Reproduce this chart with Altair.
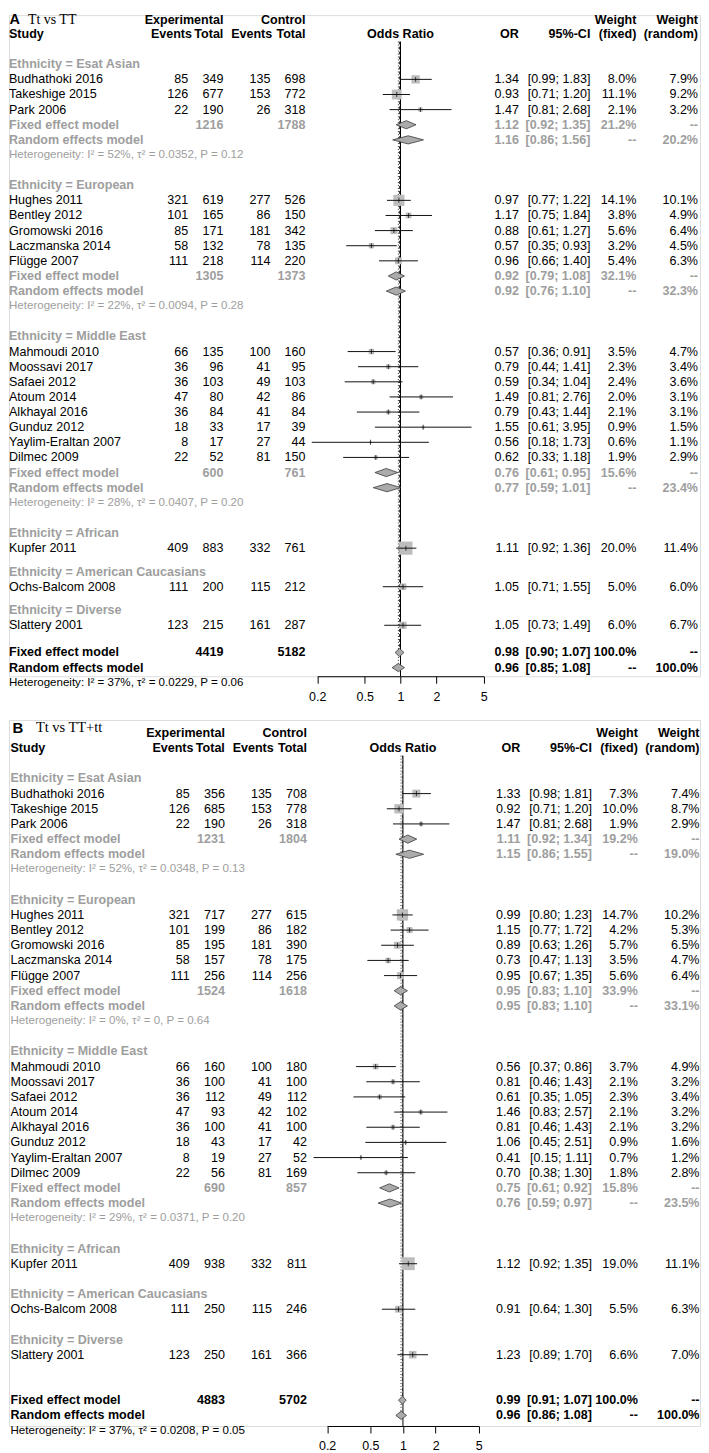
import altair as alt
import pandas as pd

FONT = "Liberation Sans"
SERIF = "Liberation Serif"
GREY = "#9e9e9e"
BLACK = "#000000"
SQUARE_FILL = "#bdbdbd"
DIAMOND_FILL = "#ababab"
FS = 12.6
FS_HET = 11.6

GROUPS = ["Esat Asian", "European", "Middle East", "African", "American Caucasians", "Diverse"]
GROUP_SIZES = [3, 5, 8, 1, 1, 1]
STUDIES = ["Budhathoki 2016", "Takeshige 2015", "Park 2006",
           "Hughes 2011", "Bentley 2012", "Gromowski 2016", "Laczmanska 2014", "Flügge 2007",
           "Mahmoudi 2010", "Moossavi 2017", "Safaei 2012", "Atoum 2014", "Alkhayal 2016",
           "Gunduz 2012", "Yaylim-Eraltan 2007", "Dilmec 2009",
           "Kupfer 2011", "Ochs-Balcom 2008", "Slattery 2001"]
TICKS = [0.2, 0.5, 1, 2, 5]

# ---------------- Panel A: Tt vs TT ----------------
A_EXP_EVENTS = [85, 126, 22, 321, 101, 85, 58, 111, 66, 36, 36, 47, 36, 18, 8, 22, 409, 111, 123]
A_EXP_TOTAL = [349, 677, 190, 619, 165, 171, 132, 218, 135, 96, 103, 80, 84, 33, 17, 52, 883, 200, 215]
A_CTL_EVENTS = [135, 153, 26, 277, 86, 181, 78, 114, 100, 41, 49, 42, 41, 17, 27, 81, 332, 115, 161]
A_CTL_TOTAL = [698, 772, 318, 526, 150, 342, 135, 220, 160, 95, 103, 86, 84, 39, 44, 150, 761, 212, 287]
A_OR = [1.34, 0.93, 1.47, 0.97, 1.17, 0.88, 0.57, 0.96, 0.57, 0.79, 0.59, 1.49, 0.79, 1.55, 0.56, 0.62, 1.11, 1.05, 1.05]
A_LO = [0.99, 0.71, 0.81, 0.77, 0.75, 0.61, 0.35, 0.66, 0.36, 0.44, 0.34, 0.81, 0.43, 0.61, 0.18, 0.33, 0.92, 0.71, 0.73]
A_HI = [1.83, 1.20, 2.68, 1.22, 1.84, 1.27, 0.93, 1.40, 0.91, 1.41, 1.04, 2.76, 1.44, 3.95, 1.73, 1.18, 1.36, 1.55, 1.49]
A_W_FIXED = [8.0, 11.1, 2.1, 14.1, 3.8, 5.6, 3.2, 5.4, 3.5, 2.3, 2.4, 2.0, 2.1, 0.9, 0.6, 1.9, 20.0, 5.0, 6.0]
A_W_RANDOM = [7.9, 9.2, 3.2, 10.1, 4.9, 6.4, 4.5, 6.3, 4.7, 3.4, 3.6, 3.1, 3.1, 1.5, 1.1, 2.9, 11.4, 6.0, 6.7]
A_SUB_EXP_TOTAL = [1216, 1305, 600]
A_SUB_CTL_TOTAL = [1788, 1373, 761]
A_SUB_FIXED_OR = [1.12, 0.92, 0.76]
A_SUB_FIXED_LO = [0.92, 0.79, 0.61]
A_SUB_FIXED_HI = [1.35, 1.08, 0.95]
A_SUB_FIXED_W = [21.2, 32.1, 15.6]
A_SUB_RANDOM_OR = [1.16, 0.92, 0.77]
A_SUB_RANDOM_LO = [0.86, 0.76, 0.59]
A_SUB_RANDOM_HI = [1.56, 1.10, 1.01]
A_SUB_RANDOM_W = [20.2, 32.3, 23.4]
A_SUB_I2 = ["52%", "22%", "28%"]
A_SUB_TAU2 = ["0.0352", "0.0094", "0.0407"]
A_SUB_P = ["0.12", "0.28", "0.20"]
A_TOTAL_EXP = 4419
A_TOTAL_CTL = 5182
A_OVERALL_FIXED = [0.98, 0.90, 1.07]
A_OVERALL_RANDOM = [0.96, 0.85, 1.08]
A_OVERALL_HET = ["37%", "0.0229", "0.06"]

# ---------------- Panel B: Tt vs TT+tt ----------------
B_EXP_EVENTS = [85, 126, 22, 321, 101, 85, 58, 111, 66, 36, 36, 47, 36, 18, 8, 22, 409, 111, 123]
B_EXP_TOTAL = [356, 685, 190, 717, 199, 195, 157, 256, 160, 100, 112, 93, 100, 43, 19, 56, 938, 250, 250]
B_CTL_EVENTS = [135, 153, 26, 277, 86, 181, 78, 114, 100, 41, 49, 42, 41, 17, 27, 81, 332, 115, 161]
B_CTL_TOTAL = [708, 778, 318, 615, 182, 390, 175, 256, 180, 100, 112, 102, 100, 42, 52, 169, 811, 246, 366]
B_OR = [1.33, 0.92, 1.47, 0.99, 1.15, 0.89, 0.73, 0.95, 0.56, 0.81, 0.61, 1.46, 0.81, 1.06, 0.41, 0.70, 1.12, 0.91, 1.23]
B_LO = [0.98, 0.71, 0.81, 0.80, 0.77, 0.63, 0.47, 0.67, 0.37, 0.46, 0.35, 0.83, 0.46, 0.45, 0.15, 0.38, 0.92, 0.64, 0.89]
B_HI = [1.81, 1.20, 2.68, 1.23, 1.72, 1.26, 1.13, 1.35, 0.86, 1.43, 1.05, 2.57, 1.43, 2.51, 1.11, 1.30, 1.35, 1.30, 1.70]
B_W_FIXED = [7.3, 10.0, 1.9, 14.7, 4.2, 5.7, 3.5, 5.6, 3.7, 2.1, 2.3, 2.1, 2.1, 0.9, 0.7, 1.8, 19.0, 5.5, 6.6]
B_W_RANDOM = [7.4, 8.7, 2.9, 10.2, 5.3, 6.5, 4.7, 6.4, 4.9, 3.2, 3.4, 3.2, 3.2, 1.6, 1.2, 2.8, 11.1, 6.3, 7.0]
B_SUB_EXP_TOTAL = [1231, 1524, 690]
B_SUB_CTL_TOTAL = [1804, 1618, 857]
B_SUB_FIXED_OR = [1.11, 0.95, 0.75]
B_SUB_FIXED_LO = [0.92, 0.83, 0.61]
B_SUB_FIXED_HI = [1.34, 1.10, 0.92]
B_SUB_FIXED_W = [19.2, 33.9, 15.8]
B_SUB_RANDOM_OR = [1.15, 0.95, 0.76]
B_SUB_RANDOM_LO = [0.86, 0.83, 0.59]
B_SUB_RANDOM_HI = [1.55, 1.10, 0.97]
B_SUB_RANDOM_W = [19.0, 33.1, 23.5]
B_SUB_I2 = ["52%", "0%", "29%"]
B_SUB_TAU2 = ["0.0348", "0", "0.0371"]
B_SUB_P = ["0.13", "0.64", "0.20"]
B_TOTAL_EXP = 4883
B_TOTAL_CTL = 5702
B_OVERALL_FIXED = [0.99, 0.91, 1.07]
B_OVERALL_RANDOM = [0.96, 0.86, 1.08]
B_OVERALL_HET = ["37%", "0.0208", "0.05"]

PANEL_A = dict(letter="A", subtitle="Tt vs TT",
               ee=A_EXP_EVENTS, et=A_EXP_TOTAL, ce=A_CTL_EVENTS, ct=A_CTL_TOTAL,
               est=A_OR, lo=A_LO, hi=A_HI, wf=A_W_FIXED, wr=A_W_RANDOM,
               sub_et=A_SUB_EXP_TOTAL, sub_ct=A_SUB_CTL_TOTAL,
               sf=(A_SUB_FIXED_OR, A_SUB_FIXED_LO, A_SUB_FIXED_HI, A_SUB_FIXED_W),
               sr=(A_SUB_RANDOM_OR, A_SUB_RANDOM_LO, A_SUB_RANDOM_HI, A_SUB_RANDOM_W),
               het=(A_SUB_I2, A_SUB_TAU2, A_SUB_P),
               tot=(A_TOTAL_EXP, A_TOTAL_CTL), of=A_OVERALL_FIXED, orr=A_OVERALL_RANDOM,
               ohet=A_OVERALL_HET)
PANEL_B = dict(letter="B", subtitle="Tt vs TT+tt",
               ee=B_EXP_EVENTS, et=B_EXP_TOTAL, ce=B_CTL_EVENTS, ct=B_CTL_TOTAL,
               est=B_OR, lo=B_LO, hi=B_HI, wf=B_W_FIXED, wr=B_W_RANDOM,
               sub_et=B_SUB_EXP_TOTAL, sub_ct=B_SUB_CTL_TOTAL,
               sf=(B_SUB_FIXED_OR, B_SUB_FIXED_LO, B_SUB_FIXED_HI, B_SUB_FIXED_W),
               sr=(B_SUB_RANDOM_OR, B_SUB_RANDOM_LO, B_SUB_RANDOM_HI, B_SUB_RANDOM_W),
               het=(B_SUB_I2, B_SUB_TAU2, B_SUB_P),
               tot=(B_TOTAL_EXP, B_TOTAL_CTL), of=B_OVERALL_FIXED, orr=B_OVERALL_RANDOM,
               ohet=B_OVERALL_HET)

# layout (pixels / row units)
LAYOUT_A = dict(dx=0.0, forest=(309.6, 476.8), single_gap=1.55, overall_gap=1.8,
                ytop=-1.25, ybot=42.47, height=664, head_row=-0.92,
                letter_pos=(0.5, -0.92), sub_pos=(19.0, -0.95), letter_fs=14.5, sub_fs=14)
LAYOUT_B = dict(dx=1.5, forest=(319.5, 471.8), single_gap=2.0, overall_gap=3.0,
                ytop=-1.85, ybot=44.7, height=709, head_row=-1.0,
                letter_pos=(3.5, -1.32), sub_pos=(27.0, -1.33), letter_fs=15, sub_fs=14.5)

COLS = {"study": (0.0, "left"), "ee": (179.9, "right"), "et": (215.3, "right"),
        "ce": (262.5, "right"), "ct": (297.8, "right"), "h_ee": (183.8, "right"),
        "h_ce": (264.4, "right"), "or": (512.1, "right"), "ci": (583.9, "right"),
        "wf": (630.1, "right"), "wr": (692.0, "right"), "het": (0.0, "left")}
WIDTH = 694
DIAMOND_HALF = 0.27


def f_or(v):
    return f"{v:.2f}"


def f_ci(lo, hi):
    return f"[{lo:.2f}; {hi:.2f}]"


def f_w(w):
    return f"{w:.1f}%"


def het_text(i2, tau2, p):
    return f"Heterogeneity: I\u00b2 = {i2}, \u03c4\u00b2 = {tau2}, P = {p}"


def build_panel(P, L):
    trows, srows, drows = [], [], []

    def T(row, col, text, color=BLACK, bold=False):
        trows.append({"row": row, "col": col, "text": str(text), "color": color, "bold": bold})

    def diamond(row, est, lo, hi, key):
        for x, a, b in ((lo, row, row), (est, row - DIAMOND_HALF, row + DIAMOND_HALF), (hi, row, row)):
            drows.append({"id": key, "x": x, "y1": a, "y2": b})

    hr = L["head_row"]
    T(hr, "et", "Experimental", bold=True)
    T(hr, "ct", "Control", bold=True)
    T(hr, "wf", "Weight", bold=True)
    T(hr, "wr", "Weight", bold=True)
    T(0, "study", "Study", bold=True)
    T(0, "h_ee", "Events", bold=True)
    T(0, "et", "Total", bold=True)
    T(0, "h_ce", "Events", bold=True)
    T(0, "ct", "Total", bold=True)
    T(0, "or", "OR", bold=True)
    T(0, "ci", "95%-CI", bold=True)
    T(0, "wf", "(fixed)", bold=True)
    T(0, "wr", "(random)", bold=True)

    r = 2.0
    si = 0
    sj = 0
    last = None
    for g, (gname, n) in enumerate(zip(GROUPS, GROUP_SIZES)):
        T(r, "study", f"Ethnicity = {gname}", GREY, True)
        r += 1
        for k in range(n):
            i = si + k
            T(r, "study", STUDIES[i])
            T(r, "ee", P["ee"][i])
            T(r, "et", P["et"][i])
            T(r, "ce", P["ce"][i])
            T(r, "ct", P["ct"][i])
            T(r, "or", f_or(P["est"][i]))
            T(r, "ci", f_ci(P["lo"][i], P["hi"][i]))
            T(r, "wf", f_w(P["wf"][i]))
            T(r, "wr", f_w(P["wr"][i]))
            srows.append({"row": r, "est": P["est"][i], "lo": P["lo"][i], "hi": P["hi"][i], "w": P["wf"][i]})
            last = r
            r += 1
        si += n
        if n > 1:
            j = sj
            sj += 1
            fo, fl, fh, fw = (v[j] for v in P["sf"])
            T(r, "study", "Fixed effect model", GREY, True)
            T(r, "et", P["sub_et"][j], GREY, True)
            T(r, "ct", P["sub_ct"][j], GREY, True)
            T(r, "or", f_or(fo), GREY, True)
            T(r, "ci", f_ci(fl, fh), GREY, True)
            T(r, "wf", f_w(fw), GREY, True)
            T(r, "wr", "--", GREY, True)
            diamond(r, fo, fl, fh, f"f{j}")
            r += 1
            ro, rl, rh, rw = (v[j] for v in P["sr"])
            T(r, "study", "Random effects model", GREY, True)
            T(r, "or", f_or(ro), GREY, True)
            T(r, "ci", f_ci(rl, rh), GREY, True)
            T(r, "wf", "--", GREY, True)
            T(r, "wr", f_w(rw), GREY, True)
            diamond(r, ro, rl, rh, f"r{j}")
            r += 1
            T(r, "het", het_text(P["het"][0][j], P["het"][1][j], P["het"][2][j]), GREY, False)
            r += 2
        elif g < len(GROUPS) - 1:
            r += L["single_gap"] - 1

    r = last + L["overall_gap"]
    rf = r
    T(r, "study", "Fixed effect model", BLACK, True)
    T(r, "et", P["tot"][0], BLACK, True)
    T(r, "ct", P["tot"][1], BLACK, True)
    T(r, "or", f_or(P["of"][0]), BLACK, True)
    T(r, "ci", f_ci(P["of"][1], P["of"][2]), BLACK, True)
    T(r, "wf", "100.0%", BLACK, True)
    T(r, "wr", "--", BLACK, True)
    diamond(r, P["of"][0], P["of"][1], P["of"][2], "F")
    r += 1
    rr = r
    T(r, "study", "Random effects model", BLACK, True)
    T(r, "or", f_or(P["orr"][0]), BLACK, True)
    T(r, "ci", f_ci(P["orr"][1], P["orr"][2]), BLACK, True)
    T(r, "wf", "--", BLACK, True)
    T(r, "wr", "100.0%", BLACK, True)
    diamond(r, P["orr"][0], P["orr"][1], P["orr"][2], "R")
    r += 1
    T(r, "het", het_text(*P["ohet"]), BLACK, False)

    tdf = pd.DataFrame(trows)
    sdf = pd.DataFrame(srows)
    ddf = pd.DataFrame(drows)

    yscale = alt.Scale(domain=[L["ytop"], L["ybot"]], reverse=True, nice=False, zero=False)
    xscale = alt.Scale(type="log", domain=[0.2, 5], range=list(L["forest"]), nice=False)
    xaxis = alt.Axis(values=TICKS, format="~g", title=None, grid=False, tickSize=7,
                     labelPadding=7, domainColor=BLACK, tickColor=BLACK, labelColor=BLACK,
                     labelFontSize=12.5, labelFont=FONT, labelFlush=False, labelOverlap=False,
                     domainWidth=1, tickWidth=1, orient="bottom")
    Y = alt.Y("row:Q", scale=yscale, axis=None)

    layers = []
    ref = pd.DataFrame({"x": [1.0], "y1": [0.5], "y2": [L["ybot"]]})
    layers.append(alt.Chart(ref).mark_rule(color=BLACK, strokeWidth=1).encode(
        x=alt.X("x:Q", scale=xscale, axis=xaxis),
        y=alt.Y("y1:Q", scale=yscale, axis=None), y2="y2:Q"))
    reff = pd.DataFrame({"x": [P["of"][0]], "y1": [0.5], "y2": [rf]})
    layers.append(alt.Chart(reff).mark_rule(color="#333333", strokeWidth=1, strokeDash=[3, 2]).encode(
        x=alt.X("x:Q", scale=xscale, axis=xaxis),
        y=alt.Y("y1:Q", scale=yscale, axis=None), y2="y2:Q"))
    refr = pd.DataFrame({"x": [P["orr"][0]], "y1": [0.5], "y2": [rr]})
    layers.append(alt.Chart(refr).mark_rule(color="#333333", strokeWidth=1, strokeDash=[1, 2]).encode(
        x=alt.X("x:Q", scale=xscale, axis=xaxis),
        y=alt.Y("y1:Q", scale=yscale, axis=None), y2="y2:Q"))

    layers.append(alt.Chart(sdf).mark_square(color=SQUARE_FILL, opacity=1, filled=True).encode(
        x=alt.X("est:Q", scale=xscale, axis=xaxis), y=Y,
        size=alt.Size("w:Q", scale=alt.Scale(domain=[0, 20], range=[0, 175], zero=True), legend=None)))
    layers.append(alt.Chart(sdf).mark_rule(color="#111111", strokeWidth=1).encode(
        x=alt.X("lo:Q", scale=xscale, axis=xaxis), x2="hi:Q", y=Y))
    layers.append(alt.Chart(sdf).mark_tick(orient="vertical", size=5, thickness=1, color=BLACK).encode(
        x=alt.X("est:Q", scale=xscale, axis=xaxis), y=Y))

    layers.append(alt.Chart(ddf).mark_area(orient="vertical", fill=DIAMOND_FILL, stroke="#3a3a3a",
                                           strokeWidth=0.8, opacity=1).encode(
        x=alt.X("x:Q", scale=xscale, axis=xaxis),
        y=alt.Y("y1:Q", scale=yscale, axis=None), y2="y2:Q", detail="id:N"))

    for col, (cx, align) in COLS.items():
        for bold in (False, True):
            if not ((tdf["col"] == col) & (tdf["bold"] == bold)).any():
                continue
            cond = f"datum.col == '{col}' && datum.bold == {'true' if bold else 'false'}"
            layers.append(alt.Chart(tdf).transform_filter(cond).mark_text(
                align=align, baseline="middle", font=FONT,
                fontSize=FS_HET if col == "het" else FS,
                fontWeight="bold" if bold else "normal").encode(
                x=alt.value(cx + L["dx"]), y=Y, text="text:N",
                color=alt.Color("color:N", scale=None)))

    hdr = pd.DataFrame({"x": [1.0], "row": [0], "t": ["Odds Ratio"]})
    layers.append(alt.Chart(hdr).mark_text(align="center", baseline="middle", font=FONT,
                                           fontSize=FS, fontWeight="bold", color=BLACK).encode(
        x=alt.X("x:Q", scale=xscale, axis=xaxis), y=Y, text="t:N"))

    lt = pd.DataFrame({"row": [L["letter_pos"][1]], "t": [P["letter"]]})
    layers.append(alt.Chart(lt).mark_text(align="left", baseline="middle", font=FONT,
                                          fontSize=L["letter_fs"], fontWeight="bold", color=BLACK).encode(
        x=alt.value(L["letter_pos"][0]), y=Y, text="t:N"))
    st = pd.DataFrame({"row": [L["sub_pos"][1]], "t": [P["subtitle"]]})
    layers.append(alt.Chart(st).mark_text(align="left", baseline="middle", font=SERIF,
                                          fontSize=L["sub_fs"], color=BLACK).encode(
        x=alt.value(L["sub_pos"][0]), y=Y, text="t:N"))

    return alt.layer(*layers).properties(width=WIDTH, height=L["height"])


panel_a = build_panel(PANEL_A, LAYOUT_A)
panel_b = build_panel(PANEL_B, LAYOUT_B)

chart = alt.vconcat(panel_a, panel_b, spacing=16).properties(
    padding=0
).configure_view(stroke=None).configure(background="white")

chart.save("out.html", embed_options={"renderer": "svg", "actions": False})
